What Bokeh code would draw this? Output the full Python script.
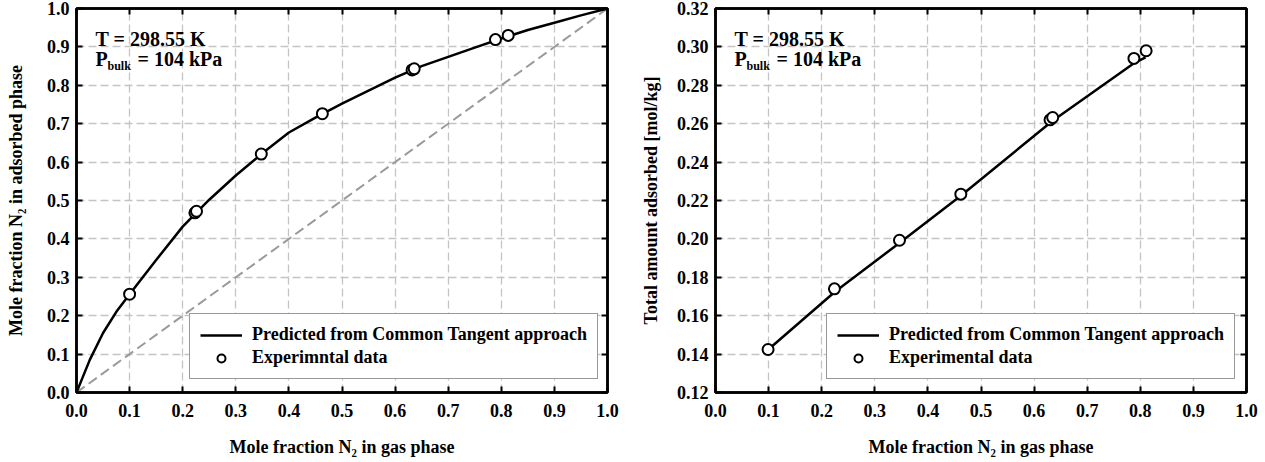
from bokeh.plotting import figure
from bokeh.layouts import row
from bokeh.models import LinearAxis, Label, Legend, LegendItem, FixedTicker, Range1d
from bokeh.embed import file_html
from bokeh.resources import INLINE

# ---------------- data ----------------
# Left panel: adsorbed-phase vs gas-phase mole fraction of N2
left_exp_x = [0.100, 0.223, 0.226, 0.348, 0.463, 0.632, 0.636, 0.789, 0.813]
left_exp_y = [0.256, 0.468, 0.472, 0.621, 0.726, 0.840, 0.843, 0.919, 0.930]
left_pred_x = [0.0, 0.025, 0.05, 0.075, 0.1, 0.15, 0.2, 0.25, 0.3, 0.35, 0.4,
               0.45, 0.5, 0.55, 0.6, 0.65, 0.7, 0.75, 0.8, 0.85, 0.9, 0.95, 1.0]
left_pred_y = [0.0, 0.085, 0.155, 0.21, 0.256, 0.345, 0.432, 0.502, 0.565, 0.623, 0.677,
               0.716, 0.752, 0.786, 0.820, 0.850, 0.874, 0.898, 0.922, 0.944, 0.963, 0.982, 1.0]
diag_x = [0.0, 1.0]
diag_y = [0.0, 1.0]

# Right panel: total amount adsorbed
right_exp_x = [0.099, 0.224, 0.3465, 0.462, 0.630, 0.635, 0.788, 0.811]
right_exp_y = [0.1424, 0.174, 0.1993, 0.2233, 0.262, 0.2632, 0.294, 0.298]
right_pred_x = [0.1, 0.225, 0.347, 0.462, 0.635, 0.788, 0.81]
right_pred_y = [0.1425, 0.1725, 0.198, 0.2225, 0.2615, 0.2915, 0.2945]

x_ticks = [0.0, 0.1, 0.2, 0.3, 0.4, 0.5, 0.6, 0.7, 0.8, 0.9, 1.0]
x_tick_labels = ["0.0", "0.1", "0.2", "0.3", "0.4", "0.5", "0.6", "0.7", "0.8", "0.9", "1.0"]
left_y_ticks = x_ticks
left_y_tick_labels = x_tick_labels
right_y_ticks = [0.12, 0.14, 0.16, 0.18, 0.20, 0.22, 0.24, 0.26, 0.28, 0.30, 0.32]
right_y_tick_labels = ["0.12", "0.14", "0.16", "0.18", "0.20", "0.22", "0.24", "0.26", "0.28", "0.30", "0.32"]

FONT = "Liberation Serif"


def style_axis(ax, ticks, labels, show_labels=True):
    ax.ticker = FixedTicker(ticks=ticks)
    ax.axis_line_width = 2.5
    ax.axis_line_color = "black"
    ax.major_tick_in = 6
    ax.major_tick_out = 0
    ax.major_tick_line_width = 2
    ax.major_tick_line_color = "black"
    ax.minor_tick_line_color = None
    ax.major_label_text_font = FONT
    ax.major_label_text_font_style = "bold"
    if show_labels:
        ax.major_label_overrides = {t: l for t, l in zip(ticks, labels)}
        ax.major_label_text_font_size = "18px"
        ax.major_label_text_color = "black"
    else:
        ax.major_label_text_font_size = "1px"
        ax.major_label_text_color = None
        ax.major_label_standoff = 0
    ax.axis_label_text_font = FONT
    ax.axis_label_text_font_style = "bold"
    ax.axis_label_text_font_size = "18px"
    ax.axis_label_text_color = "black"


def add_text(p, ytop, dx, dy, text, size):
    p.add_layout(Label(x=0, y=ytop, x_offset=dx, y_offset=dy, text=text,
                       text_font=FONT, text_font_style="bold", text_font_size=size,
                       text_baseline="top", text_color="black"))


def make_panel(yrange, yticks, ylabels, ylabel, left_border, right_border, ylab_standoff):
    p = figure(frame_width=531, frame_height=384,
               x_range=Range1d(0, 1), y_range=Range1d(*yrange),
               output_backend="svg", toolbar_location=None,
               min_border_left=left_border, min_border_right=right_border,
               min_border_top=8, min_border_bottom=70,
               background_fill_color="white", border_fill_color="white")
    p.outline_line_color = "black"
    p.outline_line_width = 2.5
    style_axis(p.xaxis[0], x_ticks, x_tick_labels)
    style_axis(p.yaxis[0], yticks, ylabels)
    p.xaxis[0].major_label_standoff = 11
    p.yaxis[0].major_label_standoff = 7
    p.xaxis[0].axis_label = "Mole fraction N\u2082 in gas phase"
    p.xaxis[0].axis_label_standoff = 17
    p.yaxis[0].axis_label = ylabel
    p.yaxis[0].axis_label_standoff = ylab_standoff
    top = LinearAxis()
    style_axis(top, x_ticks, x_tick_labels, show_labels=False)
    p.add_layout(top, "above")
    right = LinearAxis()
    style_axis(right, yticks, ylabels, show_labels=False)
    p.add_layout(right, "right")
    p.xgrid[0].ticker = FixedTicker(ticks=x_ticks)
    p.ygrid[0].ticker = FixedTicker(ticks=yticks)
    for g in (p.xgrid[0], p.ygrid[0]):
        g.grid_line_color = "#c4c4c4"
        g.grid_line_dash = "8 4"
        g.grid_line_width = 1.3
    ytop = yrange[1]
    add_text(p, ytop, 19, -19, "T = 298.55 K", "20px")
    add_text(p, ytop, 19, -39, "P", "20px")
    add_text(p, ytop, 31, -50, "bulk", "12px")
    add_text(p, ytop, 61, -39, "= 104 kPa", "20px")
    return p


# ---------------- left panel ----------------
p1 = make_panel((0, 1), left_y_ticks, left_y_tick_labels,
                "Mole fraction N\u2082 in adsorbed phase", 76, 25, 18)
p1.line(diag_x, diag_y, line_color="#9a9a9a", line_width=2, line_dash="10 5")
l1 = p1.line(left_pred_x, left_pred_y, line_color="black", line_width=2.5)
s1 = p1.scatter(left_exp_x, left_exp_y, marker="circle", size=11, fill_color="white",
                line_color="black", line_width=2)
leg1 = Legend(items=[LegendItem(label="Predicted from Common Tangent approach", renderers=[l1]),
                     LegendItem(label="Experimntal data", renderers=[s1])],
              location=(113, 13))

# ---------------- right panel ----------------
p2 = make_panel((0.12, 0.32), right_y_ticks, right_y_tick_labels,
                "Total amount adsorbed [mol/kg]", 83, 18, 13)
l2 = p2.line(right_pred_x, right_pred_y, line_color="black", line_width=2.5)
s2 = p2.scatter(right_exp_x, right_exp_y, marker="circle", size=11, fill_color="white",
                line_color="black", line_width=2)
leg2 = Legend(items=[LegendItem(label="Predicted from Common Tangent approach", renderers=[l2]),
                     LegendItem(label="Experimental data", renderers=[s2])],
              location=(111, 13))

for p, leg in ((p1, leg1), (p2, leg2)):
    leg.label_text_font = FONT
    leg.label_text_font_style = "bold"
    leg.label_text_font_size = "18px"
    leg.label_text_color = "black"
    leg.glyph_width = 42
    leg.glyph_height = 20
    leg.label_standoff = 10
    leg.padding = 10
    leg.spacing = 2
    leg.margin = 0
    leg.border_line_color = "#333333"
    leg.border_line_width = 1.2
    leg.background_fill_color = "white"
    leg.background_fill_alpha = 1
    p.add_layout(leg, "center")

layout = row(p1, p2)
open("out.html", "w").write(file_html(layout, INLINE))
